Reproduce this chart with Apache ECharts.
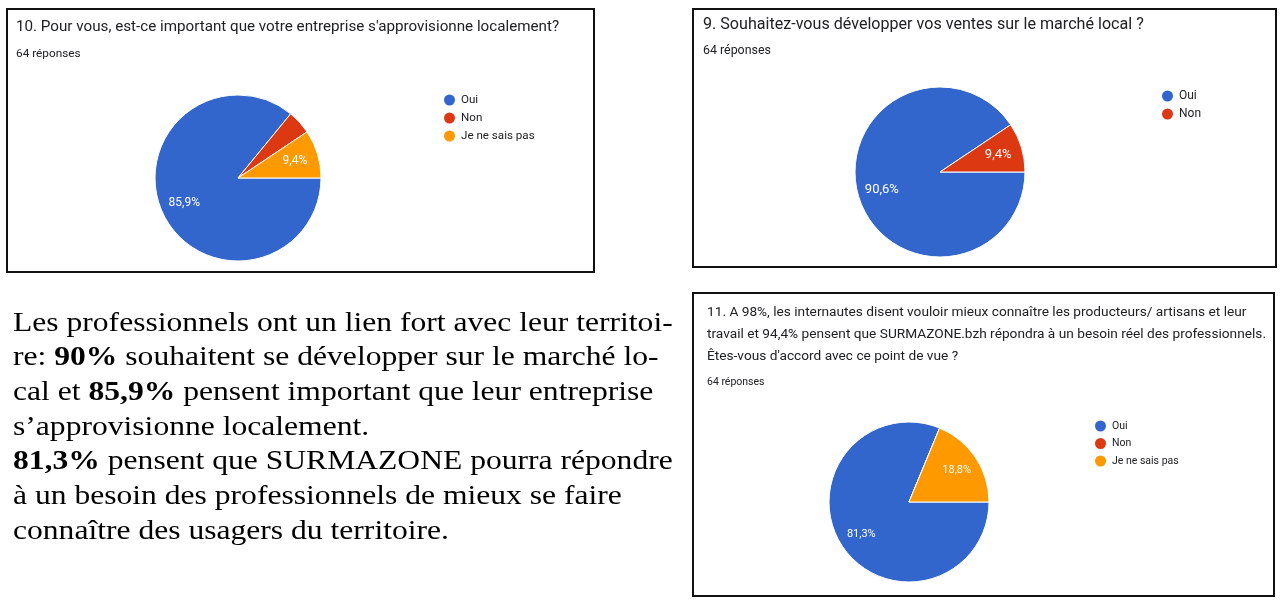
<!DOCTYPE html>
<html>
<head>
<meta charset="utf-8">
<script src="https://cdn.jsdelivr.net/npm/echarts@6/dist/echarts.min.js"></script>
<style>
html,body{margin:0;padding:0;background:#fff;}
#chart{width:1284px;height:607px;}
</style>
</head>
<body>
<div id="chart"></div>
<script>
// ---- data ----
const categories = ['Oui', 'Non', 'Je ne sais pas'];
const colors = ['#3366cc', '#dc3912', '#ff9900'];

const q10Title = "10. Pour vous, est-ce important que votre entreprise s'approvisionne localement?";
const q10Categories = ['Oui', 'Non', 'Je ne sais pas'];
const q10Values = [55, 3, 6];

const q9Title = "9. Souhaitez-vous développer vos ventes sur le marché local ?";
const q9Categories = ['Oui', 'Non'];
const q9Values = [58, 6];

const q11Title = "11. A 98%, les internautes disent vouloir mieux connaître les producteurs/ artisans et leur\ntravail et 94,4% pensent que SURMAZONE.bzh répondra à un besoin réel des professionnels.\nÊtes-vous d'accord avec ce point de vue ?";
const q11Categories = ['Oui', 'Non', 'Je ne sais pas'];
const q11Values = [52, 0, 12];

const responsesText = '64 réponses';

const paragraphLines = [
  'Les professionnels ont un lien fort avec leur territoi-',
  're: {b|90%} souhaitent se développer sur le marché lo-',
  'cal et {b|85,9%} pensent important que leur entreprise',
  's’approvisionne localement.',
  '{b|81,3%} pensent que SURMAZONE pourra répondre',
  'à un besoin des professionnels de mieux se faire',
  'connaître des usagers du territoire.'
];

// ---- build ----
function toData(cats, vals) {
  return cats.map((c, i) => ({
    name: c, value: vals[i],
    itemStyle: { color: colors[categories.indexOf(c)] }
  }));
}
function pctLabel(p) {
  return p.percent >= 5 ? p.percent.toFixed(1).replace('.', ',') + '%' : '';
}
function pieSeries(cats, vals, center, r) {
  return {
    type: 'pie', center: center, radius: [0, r],
    startAngle: 0, clockwise: true,
    avoidLabelOverlap: false, silent: true,
    label: { show: false }, labelLine: { show: false },
    emphasis: { disabled: true },
    itemStyle: { borderColor: '#fff', borderWidth: 1 },
    data: toData(cats, vals)
  };
}
function labelSeries(cats, vals, center, r, fs) {
  return {
    type: 'pie', center: center, radius: [r * 0.36, r],
    startAngle: 0, clockwise: true,
    avoidLabelOverlap: false, silent: true, legendHoverLink: false,
    itemStyle: { color: 'rgba(0,0,0,0)', borderWidth: 0 },
    label: { show: true, position: 'inside', formatter: pctLabel,
      color: '#fff', fontSize: fs, fontFamily: 'Roboto' },
    labelLine: { show: false },
    emphasis: { disabled: true },
    data: cats.map((c, i) => ({ name: c, value: vals[i] }))
  };
}
const titleFont = { fontFamily: 'Roboto', fontWeight: 'normal', color: '#202124' };
function legendFor(cats, left, top, fs, gap) {
  return {
    orient: 'vertical', left: left, top: top, padding: 0,
    itemWidth: 13, itemHeight: 13, itemGap: gap, icon: 'circle',
    selectedMode: false,
    textStyle: { fontSize: fs, lineHeight: 12, fontFamily: 'Roboto', color: '#202124' },
    data: cats
  };
}

const c10 = [238, 178], r10 = 83;
const c9 = [940, 172], r9 = 85;
const c11 = [909, 502], r11 = 80;

const graphics = [
  { type: 'rect', shape: { x: 7, y: 9, width: 587, height: 263 },
    style: { fill: 'none', stroke: '#111', lineWidth: 2 } },
  { type: 'rect', shape: { x: 693, y: 9, width: 583, height: 258 },
    style: { fill: 'none', stroke: '#111', lineWidth: 2 } },
  { type: 'rect', shape: { x: 693, y: 293, width: 581, height: 303 },
    style: { fill: 'none', stroke: '#111', lineWidth: 2 } }
];
paragraphLines.forEach((line, i) => {
  graphics.push({
    type: 'text', x: 13, y: 310 + i * 34.7, scaleX: 1.17,
    style: {
      text: line, fill: '#000',
      font: '27px "Liberation Serif"',
      rich: { b: { fontWeight: 'bold', fontSize: 27, fontFamily: 'Liberation Serif', fill: '#000', color: '#000' } }
    }
  });
});

const option = {
  backgroundColor: '#fff',
  animation: false,
  title: [
    { text: q10Title, left: 16, top: 18, padding: 0,
      textStyle: Object.assign({ fontSize: 15.2, lineHeight: 18 }, titleFont) },
    { text: responsesText, left: 16, top: 47, padding: 0,
      textStyle: Object.assign({ fontSize: 11.8, lineHeight: 14 }, titleFont) },
    { text: q9Title, left: 703, top: 16, padding: 0,
      textStyle: Object.assign({ fontSize: 16.1, lineHeight: 18 }, titleFont) },
    { text: responsesText, left: 703, top: 44, padding: 0,
      textStyle: Object.assign({ fontSize: 12.4, lineHeight: 14 }, titleFont) },
    { text: q11Title, left: 707, top: 302, padding: 0,
      textStyle: Object.assign({ fontSize: 13.7, lineHeight: 22 }, titleFont) },
    { text: responsesText, left: 707, top: 375, padding: 0,
      textStyle: Object.assign({ fontSize: 10.5, lineHeight: 14 }, titleFont) }
  ],
  legend: [
    legendFor(q10Categories, 442, 92.5, 11.6, 3),
    legendFor(q9Categories, 1160, 88.5, 12, 3),
    legendFor(q11Categories, 1093, 418.5, 10.5, 2.5)
  ],
  series: [
    pieSeries(q10Categories, q10Values, c10, r10),
    pieSeries(q9Categories, q9Values, c9, r9),
    pieSeries(q11Categories, q11Values, c11, r11),
    labelSeries(q10Categories, q10Values, c10, r10, 12),
    labelSeries(q9Categories, q9Values, c9, r9, 13),
    labelSeries(q11Categories, q11Values, c11, r11, 11)
  ],
  graphic: graphics
};

const chart = echarts.init(document.getElementById('chart'));
chart.setOption(option);
</script>
</body>
</html>
